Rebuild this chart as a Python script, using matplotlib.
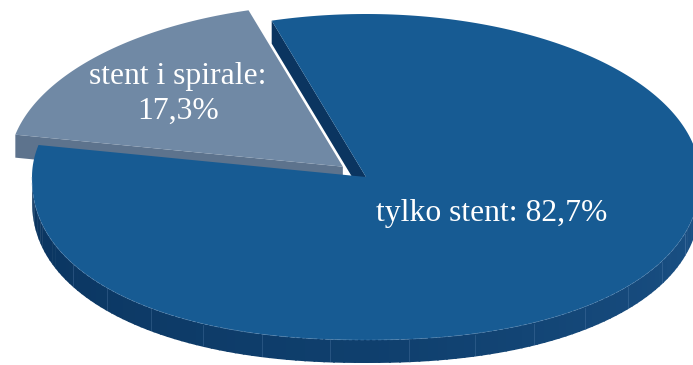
import numpy as np
import matplotlib
matplotlib.use("Agg")
import matplotlib.pyplot as plt
from matplotlib.patches import Polygon
from matplotlib.colors import to_rgb

# --- data ---------------------------------------------------------------
labels = ["tylko stent", "stent i spirale"]
values = [82.7, 17.3]
label_text = ["tylko stent: 82,7%", "stent i spirale:\n17,3%"]
explode = [0.0, 0.094]

# --- colours ------------------------------------------------------------
top_colors = ["#175b93", "#7089a5"]
cut_colors = ["#0b3560", "#5d738d"]
side_left, side_mid, side_right = "#0a345f", "#0f3f6d", "#1b5287"

# --- projected pie geometry (pixel units) -------------------------------
W, H = 693, 365
cx, cy = 366.0, 177.0          # projected centre
ra, rb = 334.0, 163.0          # radii of the top face
front_exp = 2.2                # front half drawn slightly fuller (perspective)
depth = 23.0                   # thickness of the disc
start_angle = 106.4            # first slice starts here, runs clockwise


def rim(t_deg, r=1.0):
    """Offset from the centre of a rim point at angle t (fraction r)."""
    t = np.deg2rad(np.asarray(t_deg, dtype=float))
    c, s = np.cos(t), np.sin(t)
    p = 2.0 / front_exp
    front = s < 0
    cc = np.where(front, np.sign(c) * np.abs(c) ** p, c)
    ss = np.where(front, -np.abs(s) ** p, s)
    return np.array([ra * r * cc, -rb * r * ss]).T


def shift(t_deg, r):
    """Linear displacement used for exploding a slice."""
    t = np.deg2rad(t_deg)
    return np.array([ra * r * np.cos(t), -rb * r * np.sin(t)])


fig = plt.figure(figsize=(W / 100, H / 100), dpi=100)
ax = fig.add_axes([0, 0, 1, 1])
ax.set_xlim(0, W)
ax.set_ylim(H, 0)
ax.axis("off")

# slice angle ranges
total = sum(values)
spans = [v / total * 360.0 for v in values]
ranges = []
a0 = start_angle
for s in spans:
    ranges.append((a0 - s, a0))   # (low, high) in degrees
    a0 -= s

centres = []
for (lo, hi), e in zip(ranges, explode):
    mid = 0.5 * (lo + hi)
    centres.append(np.array([cx, cy]) + shift(mid, e))


def top_face(i, n=300):
    lo, hi = ranges[i]
    ts = np.linspace(hi, lo, n)
    pts = centres[i] + rim(ts)
    return np.vstack([centres[i], pts])


def cut_face(i, t):
    c = centres[i]
    p = c + rim(t)
    d = np.array([0, depth])
    return np.array([c, p, p + d, c + d])


def side_colour(frac):
    # dark on the left, lighter towards the right
    cl, cm, cr = map(np.array, map(to_rgb, (side_left, side_mid, side_right)))
    if frac < 0.5:
        return cl + (cm - cl) * frac / 0.5
    return cm + (cr - cm) * (frac - 0.5) / 0.5


# 1) exploded small slice: its front cut face, then its top
lo1, hi1 = ranges[1]
ax.add_patch(Polygon(cut_face(1, hi1), closed=True,
                     fc=cut_colors[1], ec="none"))
ax.add_patch(Polygon(top_face(1), closed=True, fc=top_colors[1], ec="none"))

# 2) main slice: outer rim side (front half only), with a gradient
lo0, hi0 = ranges[0]
a_start = max(lo0, -180.0)
a_end = min(hi0, 0.0)
edges = np.linspace(a_start, a_end, 121)
for k in range(len(edges) - 1):
    ts = np.linspace(edges[k], edges[k + 1] + 0.3, 4)
    top = centres[0] + rim(ts)
    bot = top + np.array([0, depth])
    poly = np.vstack([top, bot[::-1]])
    col = side_colour(k / (len(edges) - 2))
    ax.add_patch(Polygon(poly, closed=True, fc=col, ec="none"))

# faint seams on the rim side
for t in np.arange(-150, -5, 11.0):
    p = centres[0] + rim(t)
    ax.plot([p[0], p[0]], [p[1] + 1, p[1] + depth - 1], color="#6f95c0",
            lw=0.6, alpha=0.3)

# 3) main slice cut face exposed by the gap
ax.add_patch(Polygon(cut_face(0, hi0), closed=True,
                     fc=cut_colors[0], ec="none"))

# 4) main slice top
ax.add_patch(Polygon(top_face(0), closed=True, fc=top_colors[0], ec="none"))

# faint highlight along the front rim
ts = np.linspace(a_start, a_end, 300)
rim_pts = centres[0] + rim(ts)
ax.plot(rim_pts[:, 0], rim_pts[:, 1], color="#5d8cbb", lw=0.6, alpha=0.5,
        ls=(0, (4, 3)))

# --- labels -------------------------------------------------------------
font = dict(family=["Liberation Serif", "DejaVu Serif"], color="white",
            fontsize=22.8, ha="center", va="center")
ax.text(492, 214, label_text[0], **font)
ax.text(178, 94, label_text[1], linespacing=1.25, **font)

fig.savefig("out.png", dpi=100)
